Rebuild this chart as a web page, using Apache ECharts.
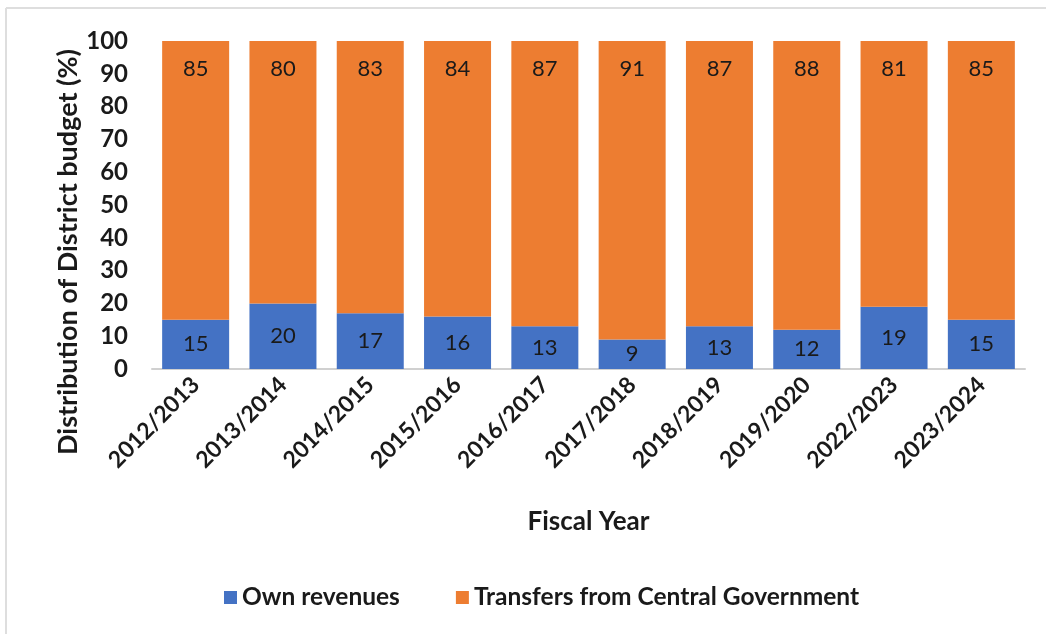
<!DOCTYPE html>
<html>
<head>
<meta charset="utf-8">
<script src="https://cdn.jsdelivr.net/npm/echarts@6/dist/echarts.min.js"></script>
<style>
  html, body { margin: 0; padding: 0; background: #fff; }
  #chart { width: 1046px; height: 634px; }
</style>
</head>
<body>
<div id="chart"></div>
<script>
// Fiscal years on the category axis
const fiscalYears = ['2012/2013', '2013/2014', '2014/2015', '2015/2016', '2016/2017',
                     '2017/2018', '2018/2019', '2019/2020', '2022/2023', '2023/2024'];
// Share of district budget (%) by source
const ownRevenues = [15, 20, 17, 16, 13, 9, 13, 12, 19, 15];
const centralTransfers = [85, 80, 83, 84, 87, 91, 87, 88, 81, 85];
// Value-axis ticks
const yTicks = [0, 10, 20, 30, 40, 50, 60, 70, 80, 90, 100];
const yTitle = 'Distribution of District budget (%)';

const FONT = 'Lato, "Open Sans", sans-serif';
const INK = '#1a1a1a';
const chart = echarts.init(document.getElementById('chart'), null, { renderer: 'canvas' });

chart.setOption({
  backgroundColor: '#ffffff',
  animation: false,
  textStyle: { fontFamily: FONT },
  grid: { left: 152, right: 21, top: 41, bottom: 265 },
  legend: {
    bottom: 19,
    left: 219,
    itemWidth: 13,
    itemHeight: 13,
    itemGap: 56,
    icon: 'rect',
    textStyle: { fontFamily: FONT, fontSize: 24.5, fontWeight: 'bold', color: INK },
    data: ['Own revenues', 'Transfers from Central Government']
  },
  xAxis: {
    type: 'category',
    data: fiscalYears,
    name: 'Fiscal Year',
    nameLocation: 'middle',
    nameGap: 140,
    nameTextStyle: { fontFamily: FONT, fontSize: 26, fontWeight: 'bold', color: INK },
    axisLine: { lineStyle: { color: '#d0d0d0', width: 2 } },
    axisTick: { show: false },
    axisLabel: {
      rotate: 45,
      interval: 0,
      margin: 12,
      fontFamily: FONT, fontSize: 23, fontWeight: 'bold', color: INK
    }
  },
  yAxis: {
    type: 'value',
    min: yTicks[0],
    max: yTicks[yTicks.length - 1],
    interval: yTicks[1] - yTicks[0],
    axisLine: { show: false },
    axisTick: { show: false },
    splitLine: { show: false },
    axisLabel: { margin: 24, fontFamily: FONT, fontSize: 24, fontWeight: 'bold', color: INK }
  },
  series: [
    {
      name: 'Own revenues',
      type: 'bar',
      stack: 'budget',
      barWidth: 67,
      data: ownRevenues,
      itemStyle: { color: '#4472C4' },
      label: { show: true, position: 'inside', fontFamily: FONT, fontSize: 22, color: INK }
    },
    {
      name: 'Transfers from Central Government',
      type: 'bar',
      stack: 'budget',
      barWidth: 67,
      data: centralTransfers,
      itemStyle: { color: '#ED7D31' },
      label: { show: true, position: 'insideTop', distance: 17, fontFamily: FONT, fontSize: 22, color: INK }
    }
  ],
  graphic: [
    // light frame along the top and left edges
    { type: 'line', shape: { x1: 6, y1: 8, x2: 1046, y2: 8 }, style: { stroke: '#dedede', lineWidth: 2 } },
    { type: 'line', shape: { x1: 6, y1: 8, x2: 6, y2: 634 }, style: { stroke: '#dedede', lineWidth: 2 } },
    // value-axis title, rotated and sitting a little below the plot's middle
    {
      type: 'text',
      x: 68, y: 252,
      rotation: Math.PI / 2,
      style: {
        text: yTitle,
        x: 0, y: 0,
        align: 'center', verticalAlign: 'middle',
        font: 'bold 27px ' + FONT,
        fill: INK
      }
    }
  ]
});
</script>
</body>
</html>
